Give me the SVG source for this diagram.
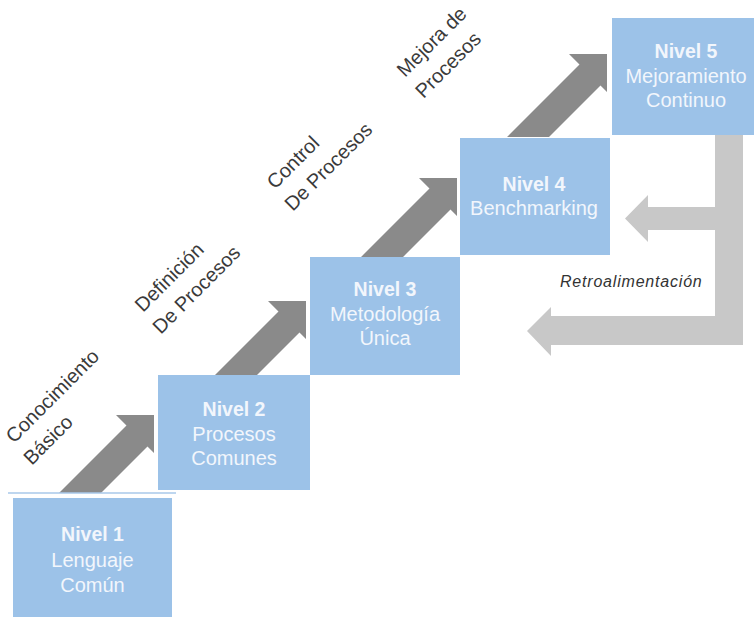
<svg xmlns="http://www.w3.org/2000/svg" width="754" height="617" viewBox="0 0 754 617">
  <style>
    .step { fill: #9cc2e8; }
    .title { font-family: "Liberation Sans", Arial, sans-serif; font-size: 19.5px; font-weight: bold; fill: #f2f6fc; text-anchor: middle; }
    .desc { font-family: "Liberation Sans", Arial, sans-serif; font-size: 20px; fill: #f2f6fc; text-anchor: middle; }
    .rise { fill: #8a8a8a; }
    .back { fill: #c8c8c8; }
    .phase { font-family: "Liberation Sans", Arial, sans-serif; font-size: 20px; fill: #3a3a3a; }
    .note { font-family: "Liberation Sans", Arial, sans-serif; font-size: 16px; font-style: italic; fill: #333333; letter-spacing: 0.8px; }
  </style>
  <rect width="754" height="617" fill="#ffffff"/>

  <!-- rising arrows between levels and the feedback return -->
  <g id="connectors">
    <polygon class="rise" points="154,415 154,453 147.5,446.5 101,493 59,493 126.5,425.5 116,415"/>
    <polygon class="rise" points="306,301 306,339 299.5,332.5 257,375 215,375 278.5,311.5 268,301"/>
    <polygon class="rise" points="457,178 457,216 450.5,209.5 403,257 361,257 429.5,188.5 419,178"/>
    <polygon class="rise" points="607,54 607,92 600.5,85.5 549,137 507,137 579.5,64.5 569,54"/>
    <polygon class="back" points="715,135 743,135 743,345 551,345 551,356 527,331 551,307 551,316 715,316 715,230 648,230 648,242 625,218.5 648,195 648,207 715,207"/>
    <line x1="8" y1="493" x2="176" y2="493" stroke="#a9c8ea" stroke-width="1.5"/>
  </g>

  <!-- phase labels along the arrows -->
  <g id="labels">
    <text class="phase" transform="translate(14,444) rotate(-45)">Conocimiento<tspan x="-3" dy="28">Básico</tspan></text>
    <text class="phase" transform="translate(143,313) rotate(-45)">Definición<tspan x="-3" dy="28">De Procesos</tspan></text>
    <text class="phase" transform="translate(275,190) rotate(-45)">Control<tspan x="-3" dy="28">De Procesos</tspan></text>
    <text class="phase" transform="translate(405,78) rotate(-45)">Mejora de<tspan x="-2" dy="28">Procesos</tspan></text>
    <text class="note" x="560" y="287">Retroalimentación</text>
  </g>

  <g id="nivel1">
    <rect class="step" x="13" y="498" width="159" height="125"/>
    <text class="title" x="92.5" y="541">Nivel 1</text>
    <text class="desc" x="92.5" y="567">Lenguaje</text>
    <text class="desc" x="92.5" y="592">Común</text>
  </g>
  <g id="nivel2">
    <rect class="step" x="158" y="375" width="152" height="115"/>
    <text class="title" x="234" y="416">Nivel 2</text>
    <text class="desc" x="234" y="441">Procesos</text>
    <text class="desc" x="234" y="465">Comunes</text>
  </g>
  <g id="nivel3">
    <rect class="step" x="310" y="257" width="150" height="118"/>
    <text class="title" x="385" y="296">Nivel 3</text>
    <text class="desc" x="385" y="321">Metodología</text>
    <text class="desc" x="385" y="345">Única</text>
  </g>
  <g id="nivel4">
    <rect class="step" x="460" y="138" width="150" height="117"/>
    <text class="title" x="534" y="191">Nivel 4</text>
    <text class="desc" x="534" y="215">Benchmarking</text>
  </g>
  <g id="nivel5">
    <rect class="step" x="612" y="18" width="148" height="117"/>
    <text class="title" x="686" y="58">Nivel 5</text>
    <text class="desc" x="686" y="83">Mejoramiento</text>
    <text class="desc" x="686" y="107">Continuo</text>
  </g>
</svg>
